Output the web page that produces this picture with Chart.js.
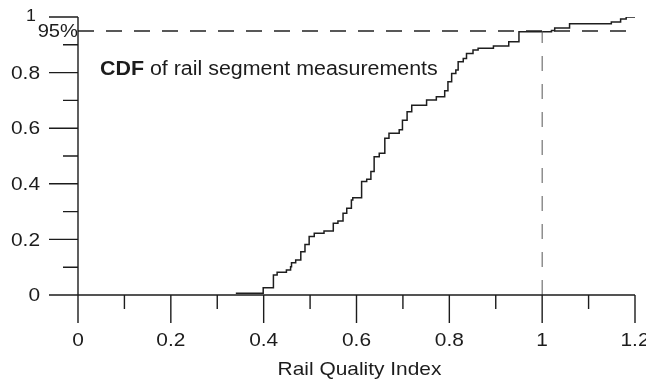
<!DOCTYPE html>
<html><head><meta charset="utf-8">
<script src="https://cdn.jsdelivr.net/npm/chart.js@4.4.0/dist/chart.umd.min.js"></script>
<style>html,body{margin:0;padding:0;background:#fff;}canvas{display:block;}</style>
</head><body>
<canvas id="c" width="646" height="383"></canvas>
<script>
// CDF steps: value cdfY[i] begins at cdfX[i]
const cdfX = [0.340,0.399,0.421,0.429,0.449,0.458,0.460,0.469,0.480,0.489,0.498,0.509,0.530,0.550,0.560,0.571,0.579,0.589,0.592,0.611,0.622,0.631,0.638,0.649,0.661,0.670,0.692,0.699,0.709,0.719,0.751,0.772,0.790,0.797,0.805,0.814,0.819,0.830,0.837,0.851,0.862,0.895,0.928,0.950,1.020,1.027,1.059,1.149,1.169,1.181,1.200];
const cdfY = [0.006,0.026,0.072,0.082,0.090,0.102,0.116,0.126,0.156,0.182,0.210,0.222,0.230,0.258,0.266,0.294,0.312,0.342,0.350,0.408,0.416,0.444,0.497,0.510,0.564,0.582,0.594,0.629,0.659,0.683,0.701,0.713,0.735,0.767,0.797,0.809,0.839,0.851,0.869,0.881,0.888,0.896,0.911,0.947,0.951,0.960,0.976,0.982,0.993,1.000,1.000];

const xTicks = [0,0.2,0.4,0.6,0.8,1,1.2];
const xTickLabels = ['0','0.2','0.4','0.6','0.8','1','1.2'];
const xMinorTicks = [0.1,0.3,0.5,0.7,0.9,1.1];
const yTicks = [0,0.2,0.4,0.6,0.8,1];
const yTickLabels = ['0','0.2','0.4','0.6','0.8','1'];
const yMinorTicks = [0.1,0.3,0.5,0.7,0.9];
const thresholdY = 0.95;
const thresholdLabel = '95%';
const thresholdX = 1;
const xTitle = 'Rail Quality Index';
const noteBold = 'CDF';
const noteRest = ' of rail segment measurements';

const INK = '#1c1c1c';
const FONT = '"Liberation Sans", Arial, Helvetica, sans-serif';

function sText(ctx, txt, x, y, size, align, base, sx, weight) {
  ctx.save();
  ctx.font = (weight || 'normal') + ' ' + size + 'px ' + FONT;
  ctx.textAlign = align; ctx.textBaseline = base;
  ctx.translate(x, y); ctx.scale(sx, 1);
  ctx.fillText(txt, 0, 0);
  ctx.restore();
}

const axesPlugin = {
  id: 'axesPlugin',
  afterDatasetsDraw(chart) {
    const ctx = chart.ctx, xs = chart.scales.x, ys = chart.scales.y;
    const x0 = xs.getPixelForValue(0), xE = xs.getPixelForValue(1.2);
    const y0 = ys.getPixelForValue(0), yT = ys.getPixelForValue(1);
    const MAJ = 28, MIN = 14;
    ctx.save();
    ctx.strokeStyle = INK; ctx.fillStyle = INK; ctx.lineWidth = 1.4;
    ctx.beginPath();
    ctx.moveTo(x0, yT); ctx.lineTo(x0, y0 + MAJ);
    ctx.moveTo(x0, y0); ctx.lineTo(xE, y0);
    yTicks.forEach(v => { const p = ys.getPixelForValue(v); ctx.moveTo(x0 - 29, p); ctx.lineTo(x0, p); });
    yMinorTicks.forEach(v => { const p = ys.getPixelForValue(v); ctx.moveTo(x0 - 15, p); ctx.lineTo(x0, p); });
    xTicks.forEach(v => { const p = xs.getPixelForValue(v); ctx.moveTo(p, y0); ctx.lineTo(p, y0 + MAJ); });
    xMinorTicks.forEach(v => { const p = xs.getPixelForValue(v); ctx.moveTo(p, y0); ctx.lineTo(p, y0 + MIN); });
    ctx.stroke();

    yTicks.forEach((v, i) => {
      const p = ys.getPixelForValue(v);
      if (v === 1) sText(ctx, yTickLabels[i], 36, p - 1, 17, 'right', 'middle', 1.05);
      else sText(ctx, yTickLabels[i], 40, p + 1, 19, 'right', 'middle', 1.1);
    });
    sText(ctx, thresholdLabel, 78, ys.getPixelForValue(thresholdY) + 1, 18, 'right', 'middle', 1.12);
    xTicks.forEach((v, i) => {
      sText(ctx, xTickLabels[i], xs.getPixelForValue(v), 341, 19, 'center', 'middle', 1.1);
    });
    sText(ctx, xTitle, (x0 + xE) / 2 + 3, 375, 19, 'center', 'alphabetic', 1.1);
    ctx.save();
    ctx.font = 'bold 20px ' + FONT;
    const bw = ctx.measureText(noteBold).width * 1.07;
    ctx.restore();
    sText(ctx, noteBold, 100, 75, 20, 'left', 'alphabetic', 1.07, 'bold');
    sText(ctx, noteRest, 100 + bw, 75, 20, 'left', 'alphabetic', 1.07);
    ctx.restore();
  }
};

const cdfPoints = cdfX.map((x, i) => ({x: x, y: cdfY[i]}));

new Chart(document.getElementById('c'), {
  type: 'scatter',
  data: {
    datasets: [
      {
        data: [{x: 0, y: thresholdY}, {x: 1.2, y: thresholdY}],
        showLine: true, pointRadius: 0, borderColor: '#222', borderWidth: 1.5,
        borderDash: [16, 12]
      },
      {
        data: [{x: thresholdX, y: 0}, {x: thresholdX, y: thresholdY}],
        showLine: true, pointRadius: 0, borderColor: '#555', borderWidth: 1,
        borderDash: [15, 13]
      },
      {
        data: cdfPoints,
        showLine: true, stepped: 'before', pointRadius: 0,
        borderColor: '#1e1e1e', borderWidth: 1.5
      }
    ]
  },
  options: {
    responsive: false, animation: false,
    layout: { padding: { left: 78, right: 11, top: 17, bottom: 88 } },
    scales: {
      x: { type: 'linear', min: 0, max: 1.2, display: false },
      y: { type: 'linear', min: 0, max: 1, display: false }
    },
    plugins: { legend: { display: false }, tooltip: { enabled: false } }
  },
  plugins: [axesPlugin]
});
</script>
</body></html>
